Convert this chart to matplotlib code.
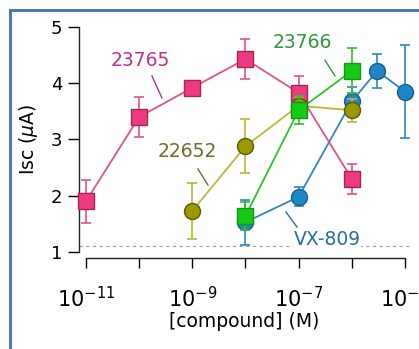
import numpy as np
import matplotlib
matplotlib.use("Agg")
import matplotlib.pyplot as plt
from matplotlib.patches import Rectangle

# concentrations (M) and Isc (uA) with error bars
pink_x = [1e-11, 1e-10, 1e-9, 1e-8, 1e-7, 1e-6]
pink_y = [1.9, 3.4, 3.92, 4.43, 3.83, 2.3]
pink_err = [0.38, 0.35, 0.07, 0.36, 0.3, 0.27]

green_x = [1e-8, 1e-7, 1e-6]
green_y = [1.64, 3.52, 4.22]
green_err = [0.25, 0.25, 0.4]

olive_x = [1e-9, 1e-8, 1e-7, 1e-6]
olive_y = [1.73, 2.88, 3.6, 3.52]
olive_err = [0.5, 0.48, 0.15, 0.2]

blue_x = [1e-8, 1e-7, 1e-6, 3e-6, 1e-5]
blue_y = [1.53, 1.98, 3.68, 4.22, 3.85]
blue_err = [0.4, 0.17, 0.25, 0.3, 0.83]

baseline = 1.1
xticks = [1e-11, 1e-10, 1e-9, 1e-8, 1e-7, 1e-6, 1e-5]
xticklabels = ["$10^{-11}$", "", "$10^{-9}$", "", "$10^{-7}$", "", "$10^{-5}$"]
yticks = [1, 2, 3, 4, 5]

plt.rcParams['font.family'] = ['DejaVu Sans']
plt.rcParams['mathtext.fontset'] = 'dejavusans'

fig = plt.figure(figsize=(4.19, 3.49), dpi=100)
ax = fig.add_axes([79 / 419, 91.4 / 349, 331.3 / 419, 236.2 / 349])
ax.set_xscale('log')
ax.set_xlim(10 ** -11.13, 10 ** -4.9)
ax.set_ylim(0.9, 5.1)

# dashed baseline
ax.axhline(baseline, color='#a0a0a0', lw=0.8, ls=(0, (3, 3)), zorder=1)

def series(x, y, err, marker, face, edge, line, z):
    ax.errorbar(x, y, yerr=err, fmt='-', color=line, lw=1.3, ecolor=line, elinewidth=1.2,
                capsize=3.5, capthick=1.2, zorder=z, clip_on=False)
    ax.plot(x, y, ls='none', marker=marker, ms=12 if marker == 's' else 11.5,
            mfc=face, mec=edge, mew=1.0, zorder=z + 0.5, clip_on=False)

series(blue_x, blue_y, blue_err, 'o', '#1f86c8', '#165f92', '#2f86c2', 2)
series(pink_x, pink_y, pink_err, 's', '#ee3a82', '#a3284f', '#e2508a', 3)
series(olive_x, olive_y, olive_err, 'o', '#9a9a00', '#5a5a00', '#b8b83a', 4)
series(green_x, green_y, green_err, 's', '#11cc11', '#1a8f1a', '#2fc02f', 5)

# labels with leader lines
labels = [
    ("23765", 10 ** -9.984, 4.41, (10 ** -9.759, 10 ** -9.571), (4.13, 3.74), '#b8338f'),
    ("23766", 10 ** -6.938, 4.72, (10 ** -6.505, 10 ** -6.317), (4.41, 4.13), '#2c9a3a'),
    ("22652", 10 ** -9.1, 2.78, (10 ** -8.894, 10 ** -8.705), (2.476, 2.19), '#6e6e28'),
    ("VX-809", 10 ** -6.467, 1.213, (10 ** -7.238, 10 ** -7.031), (1.711, 1.444), '#2a6e9a'),
]
for txt, tx, ty, lx, ly, c in labels:
    ax.text(tx, ty, txt, color=c, fontsize=13.5, ha='center', va='center', zorder=6,
            bbox=dict(facecolor='white', edgecolor='none', pad=0.5))
    ax.plot(lx, ly, color=c, lw=1.0, zorder=6)

for s in ['top', 'right']:
    ax.spines[s].set_visible(False)
ax.spines['bottom'].set_bounds(1e-11, 1e-5)
ax.spines['left'].set_bounds(1, 5)
for s in ['bottom', 'left']:
    ax.spines[s].set_linewidth(1.0)
    ax.spines[s].set_color('#222222')

ax.set_xticks(xticks)
ax.set_xticklabels(xticklabels)
ax.xaxis.set_minor_locator(matplotlib.ticker.NullLocator())
ax.set_yticks(yticks)
ax.tick_params(axis='x', direction='out', length=7.2, width=1.0, pad=13.5, labelsize=15)
ax.tick_params(axis='y', direction='out', length=8, width=1.0, pad=4, labelsize=13)

ax.set_xlabel('[compound] (M)', fontsize=13.5, labelpad=0)
ax.set_ylabel(r'Isc ($\mu$A)', fontsize=13.5, labelpad=8)

# blue frame around the figure (cropped on the right and bottom)
fig.patches.append(Rectangle((9.5 / 419, -0.2), 2.0, (349 - 10) / 349 + 0.2,
                             transform=fig.transFigure, fill=False,
                             edgecolor='#4d7ab5', lw=2.2, zorder=10))

fig.savefig('out.png', dpi=100)
